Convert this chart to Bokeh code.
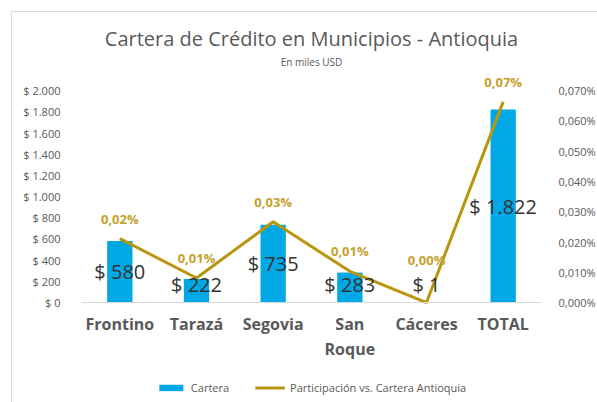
from bokeh.plotting import figure
from bokeh.layouts import column
from bokeh.models import (ColumnDataSource, Range1d, FactorRange, LinearAxis, FixedTicker,
                          CustomJSTickFormatter, Title, Legend, LegendItem, Span)
from bokeh.core.properties import value
from bokeh.embed import file_html
from bokeh.resources import INLINE

# ---- data ----
categories = ["Frontino", "Tarazá", "Segovia", "San Roque", "Cáceres", "TOTAL"]
cartera = [580, 222, 735, 283, 1, 1822]                 # miles USD
participacion = [0.0211, 0.0081, 0.0267, 0.0103, 0.0000, 0.0663]  # percent
left_ticks = [0, 200, 400, 600, 800, 1000, 1200, 1400, 1600, 1800, 2000]
right_ticks = [0.0, 0.01, 0.02, 0.03, 0.04, 0.05, 0.06, 0.07]

FONT = "Open Sans"
GRAY = "#595959"
BLUE = "#00A9E6"
GOLD = "#B8960F"
GOLD_LABEL = "#C4A22C"
BORDER = "1px solid #d9d9d9"

bar_labels = ["$ " + f"{v:,}".replace(",", ".") for v in cartera]
bar_label_y = [max(v / 2, 170) for v in cartera]
pct_labels = [f"{v:.2f}".replace(".", ",") + "%" for v in participacion]
pct_label_y = [max(v, 0.0075) for v in participacion]
cat_line1 = [c.split(" ")[0] for c in categories]
cat_line2 = [" ".join(c.split(" ")[1:]) for c in categories]
zeros = [0] * len(categories)

src = ColumnDataSource(dict(cat=categories, cartera=cartera, pct=participacion,
                            blab=bar_labels, bly=bar_label_y,
                            plab=pct_labels, ply=pct_label_y,
                            c1=cat_line1, c2=cat_line2, zero=zeros))

Y_MIN, Y_MAX = -670, 2200
p = figure(x_range=categories, y_range=Range1d(Y_MIN, Y_MAX), width=586, height=361,
           output_backend="svg", toolbar_location=None,
           min_border_left=69, min_border_right=57, min_border_bottom=0,
           min_border_top=57)
p.margin = (11, 0, 0, 11)
p.styles = {"border-top": BORDER, "border-left": BORDER}
p.title_location = None
p.extra_y_ranges = {"pct": Range1d(Y_MIN * 0.07 / 2000, Y_MAX * 0.07 / 2000)}
p.outline_line_color = None
p.xgrid.visible = False
p.ygrid.visible = False
p.xaxis.visible = False
p.background_fill_color = "white"
p.border_fill_color = "white"

# category axis line at zero
p.add_layout(Span(location=0, dimension="width", line_color="#d9d9d9", line_width=1))

bars = p.vbar(x="cat", top="cartera", width=0.33, source=src,
              fill_color=BLUE, line_color=None)
line = p.line(x="cat", y="pct", source=src, y_range_name="pct",
              line_width=3, line_color=GOLD)

p.text(x="cat", y="bly", text="blab", source=src, text_align="center",
       text_baseline="middle", text_font=value(FONT), text_font_size="20px",
       text_color="#333333")
p.text(x="cat", y="ply", text="plab", source=src, y_range_name="pct",
       y_offset=-20, text_align="center", text_baseline="middle",
       text_font=value(FONT), text_font_size="13px", text_font_style="bold",
       text_color=GOLD_LABEL)

# category labels (two lines where needed)
for col, off in (("c1", 21), ("c2", 46)):
    p.text(x="cat", y="zero", text=col, source=src, y_offset=off,
           text_align="center", text_baseline="middle", text_font=value(FONT),
           text_font_size="16px", text_font_style="bold", text_color=GRAY)

# left axis
ya = p.yaxis[0]
ya.ticker = FixedTicker(ticks=left_ticks)
ya.formatter = CustomJSTickFormatter(code="""
return '$ ' + tick.toFixed(0).replace(/\\B(?=(\\d{3})+(?!\\d))/g, '.');
""")
ya.axis_line_color = None
ya.major_tick_line_color = None
ya.minor_tick_line_color = None
ya.major_label_standoff = 15
ya.major_label_text_font = FONT
ya.major_label_text_font_size = "11px"
ya.major_label_text_color = GRAY

# right axis
ra = LinearAxis(y_range_name="pct", ticker=FixedTicker(ticks=right_ticks),
                formatter=CustomJSTickFormatter(code="""
return tick.toFixed(3).replace('.', ',') + '%';
"""))
ra.axis_line_color = None
ra.major_tick_line_color = None
ra.minor_tick_line_color = None
ra.major_label_standoff = 11
ra.major_label_text_font = FONT
ra.major_label_text_font_size = "11px"
ra.major_label_text_color = GRAY
p.add_layout(ra, "right")

# titles
p.add_layout(Title(text="En miles USD", align="center", text_font=FONT,
                   text_font_size="10px", text_font_style="normal",
                   text_color=GRAY, standoff=2), "above")
p.add_layout(Title(text="Cartera de Crédito en Municipios - Antioquia", align="center",
                   text_font=FONT, text_font_size="20px", text_font_style="normal",
                   text_color=GRAY, standoff=0), "above")

# legend in its own strip (renderers use the same data, outside the visible range)
lf = figure(width=586, height=30, output_backend="svg", toolbar_location=None,
            min_border=0, x_range=FactorRange(factors=categories),
            y_range=Range1d(5000, 6000))
lf.margin = (0, 0, 0, 11)
lf.styles = {"border-left": BORDER}
lf.axis.visible = False
lf.grid.visible = False
lf.outline_line_color = None
lb = lf.vbar(x="cat", top="cartera", width=0.33, source=src,
             fill_color=BLUE, line_color=None)
ll = lf.line(x="cat", y="cartera", source=src, line_width=3, line_color=GOLD)
legend = Legend(items=[LegendItem(label="Cartera", renderers=[lb]),
                       LegendItem(label="Participación vs. Cartera Antioquia", renderers=[ll])],
                orientation="horizontal", location="center", glyph_width=30,
                glyph_height=8, label_text_font=FONT, label_text_font_size="11px",
                label_text_color=GRAY, spacing=26, border_line_color=None,
                background_fill_alpha=0)
lf.add_layout(legend)

open("out.html", "w").write(file_html(column(p, lf, spacing=0), INLINE))
